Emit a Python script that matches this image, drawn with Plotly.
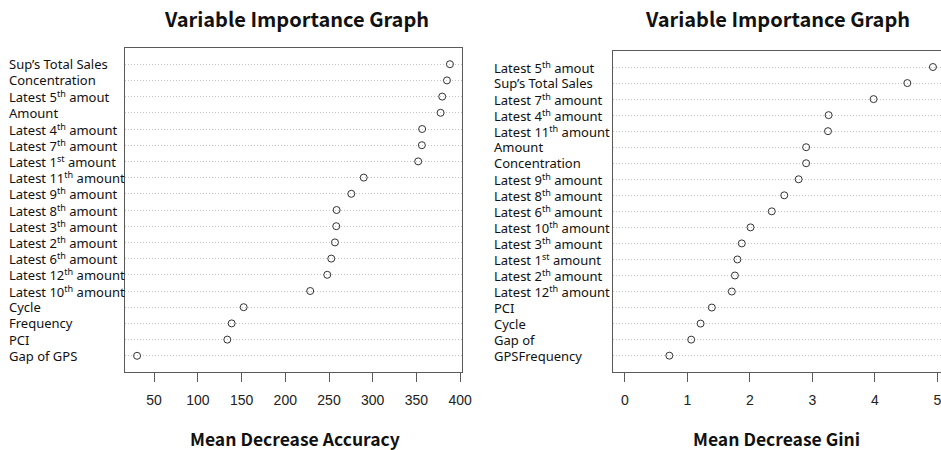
import plotly.graph_objects as go

left_labels = ["Sup’s Total Sales", "Concentration", "Latest 5<sup>th</sup> amout", "Amount",
               "Latest 4<sup>th</sup> amount", "Latest 7<sup>th</sup> amount", "Latest 1<sup>st</sup> amount",
               "Latest 11<sup>th</sup> amount", "Latest 9<sup>th</sup> amount", "Latest 8<sup>th</sup> amount",
               "Latest 3<sup>th</sup> amount", "Latest 2<sup>th</sup> amount", "Latest 6<sup>th</sup> amount",
               "Latest 12<sup>th</sup> amount", "Latest 10<sup>th</sup> amount", "Cycle", "Frequency", "PCI",
               "Gap of GPS"]
left_values = [388.3, 384.9, 379.5, 377.6, 356.5, 356.2, 352.0, 289.7, 275.5, 258.7,
               258.3, 256.8, 252.6, 248.0, 228.5, 152.4, 138.7, 133.7, 30.5]

right_labels = ["Latest 5<sup>th</sup> amout", "Sup’s Total Sales", "Latest 7<sup>th</sup> amount",
                "Latest 4<sup>th</sup> amount", "Latest 11<sup>th</sup> amount", "Amount", "Concentration",
                "Latest 9<sup>th</sup> amount", "Latest 8<sup>th</sup> amount", "Latest 6<sup>th</sup> amount",
                "Latest 10<sup>th</sup> amount", "Latest 3<sup>th</sup> amount", "Latest 1<sup>st</sup> amount",
                "Latest 2<sup>th</sup> amount", "Latest 12<sup>th</sup> amount", "PCI", "Cycle", "Gap of",
                "GPSFrequency"]
right_values = [4.93, 4.52, 3.98, 3.26, 3.25, 2.90, 2.90, 2.78, 2.55, 2.35,
                2.01, 1.87, 1.80, 1.76, 1.71, 1.39, 1.21, 1.06, 0.71]

left_ticks = [50, 100, 150, 200, 250, 300, 350, 400]
right_ticks = [0, 1, 2, 3, 4, 5]

title_text = "Variable Importance Graph"
left_xtitle = "Mean Decrease Accuracy"
right_xtitle = "Mean Decrease Gini"

W, H = 941, 450
LABEL_FONT = "Noto Sans, DejaVu Sans, sans-serif"
TITLE_FONT = "Noto Sans CJK KR, Noto Sans, sans-serif"
TICK_FONT = "Liberation Sans, Arial, sans-serif"
LINE_C = "#5a5a5a"
GRID_C = "#c4c4c4"


def px(p):
    return p / W


def py(p):
    return 1 - p / H


n_left = len(left_labels)
left_pos = [n_left - i for i in range(n_left)]
n_right = len(right_labels)
right_pos = [n_right - i for i in range(n_right)]

marker = dict(symbol="circle-open", size=7, color="#333333", line=dict(width=1))

fig = go.Figure()
fig.add_trace(go.Scatter(x=left_values, y=left_pos, mode="markers", marker=marker,
                         xaxis="x", yaxis="y", showlegend=False, hoverinfo="x"))
fig.add_trace(go.Scatter(x=right_values, y=right_pos, mode="markers", marker=marker,
                         xaxis="x2", yaxis="y2", showlegend=False, hoverinfo="x"))

common_x = dict(ticks="outside", ticklen=9, tickcolor=LINE_C, tickwidth=1,
                showline=True, linecolor=LINE_C, linewidth=1, mirror=True,
                showgrid=False, zeroline=False, ticklabelstandoff=6, automargin=False,
                ticklabeloverflow="allow",
                tickfont=dict(family=TICK_FONT, size=14, color="#222222"))
common_y = dict(showticklabels=False, ticks="", showgrid=True, gridcolor=GRID_C,
                griddash="1px,2px", gridwidth=1, showline=True, linecolor=LINE_C,
                linewidth=1, zeroline=False, range=[0, 20], automargin=False)

fig.update_layout(
    width=W, height=H,
    margin=dict(l=0, r=0, t=0, b=0, autoexpand=False),
    paper_bgcolor="white", plot_bgcolor="white",
    xaxis=dict(domain=[px(125), px(462)], anchor="y", range=[16.7, 402.1],
               tickvals=left_ticks, **common_x),
    yaxis=dict(domain=[py(372), py(48)], anchor="x", tickvals=left_pos,
               mirror=True, **common_y),
    xaxis2=dict(domain=[px(613.3), 1.0], anchor="y2", range=[-0.187, 5.059],
                tickvals=right_ticks, **common_x),
    yaxis2=dict(domain=[py(371.7), py(51)], anchor="x2", tickvals=right_pos,
                mirror=False, **common_y),
)

annotations = []
for lab, pos in zip(left_labels, left_pos):
    annotations.append(dict(text=lab, x=px(7), y=pos, xref="paper", yref="y",
                            xanchor="left", yanchor="middle", showarrow=False,
                            font=dict(family=LABEL_FONT, size=13, color="#111111")))
for lab, pos in zip(right_labels, right_pos):
    annotations.append(dict(text=lab, x=px(491.5), y=pos, xref="paper", yref="y2",
                            xanchor="left", yanchor="middle", showarrow=False,
                            font=dict(family=LABEL_FONT, size=13, color="#111111")))

annotations.append(dict(text="<b>" + title_text + "</b>", x=px(296.5), y=py(18),
                        xref="paper", yref="paper", xanchor="center", yanchor="middle",
                        showarrow=False, font=dict(family=TITLE_FONT, size=20, color="#111111")))
annotations.append(dict(text="<b>" + title_text + "</b>", x=px(777.5), y=py(18),
                        xref="paper", yref="paper", xanchor="center", yanchor="middle",
                        showarrow=False, font=dict(family=TITLE_FONT, size=20, color="#111111")))
annotations.append(dict(text="<b>" + left_xtitle + "</b>", x=px(295), y=py(438),
                        xref="paper", yref="paper", xanchor="center", yanchor="middle",
                        showarrow=False, font=dict(family=TITLE_FONT, size=17.5, color="#111111")))
annotations.append(dict(text="<b>" + right_xtitle + "</b>", x=px(776), y=py(438),
                        xref="paper", yref="paper", xanchor="center", yanchor="middle",
                        showarrow=False, font=dict(family=TITLE_FONT, size=17.5, color="#111111")))

fig.update_layout(annotations=annotations)

fig.write_html("out.html", config={"displayModeBar": False},
               post_script="document.body.style.margin='0';")
